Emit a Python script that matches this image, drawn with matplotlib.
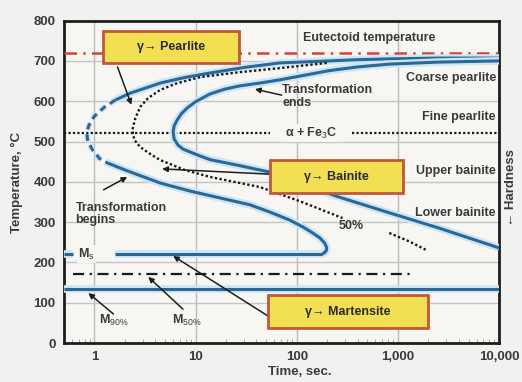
import matplotlib
matplotlib.use("Agg")
import matplotlib.pyplot as plt
import matplotlib.patheffects as pe
from matplotlib.patches import Rectangle
from matplotlib import font_manager

# ---- data: isothermal transformation (TTT) curves, time in s, temperature in C ----
begin_upper_t = [10000, 2500, 824, 400, 211, 68, 30.7, 13.9, 7.88, 4.47, 2.26, 1.61]
begin_upper_T = [707, 707, 705, 703, 700, 695, 684, 670, 659, 645, 620, 603]

begin_nose_t = [1.61, 1.25, 1.0, 0.88, 0.84, 0.86, 0.96, 1.12, 1.28]
begin_nose_T = [603, 585, 563, 540, 521, 500, 479, 458, 449]

begin_lower_t = [1.28, 2.02, 4.47, 8.83, 17.4, 34.4, 54.2, 85.3, 115, 144, 169, 189,
                 198, 196, 188, 176]
begin_lower_T = [449, 429, 397, 377, 360, 343, 325, 305, 288, 273, 261, 248,
                 237, 229, 224, 220]

end_t = [10000, 2500, 824, 400, 211, 68, 43.2, 27.4, 19.5, 13.9, 9.89, 8.24, 7.19,
         6.57, 6.14, 6.0, 6.14, 6.72, 7.53, 8.83, 11.1, 13.9, 27.4, 54.2, 107, 248,
         824, 2566, 10000]
end_T = [700, 697, 692, 685, 676, 653, 645, 638, 630, 618, 598, 583, 568,
         553, 539, 524, 506, 491, 481, 474, 464, 455, 440, 424, 397, 364,
         323, 285, 236]

half_t = [198, 68, 27.4, 11.1, 6.28, 4.47, 3.40, 2.84, 2.54, 2.37, 2.48, 2.84, 3.56,
          4.47, 7.88, 13.9, 43.2, 107, 284]
half_T = [695, 682, 672, 660, 643, 628, 608, 586, 558, 529, 504, 486, 469,
          454, 429, 412, 387, 352, 310]
half_tail_t = [822, 1300, 1900]
half_tail_T = [273, 252, 231]

eutectoid_T = 720
pearlite_split_T = 521
ms_T = 220
m50_T = 172
m90_T = 133

xticks = [1, 10, 100, 1000, 10000]
xtick_labels = ["1", "10", "100", "1,000", "10,000"]
yticks = [0, 100, 200, 300, 400, 500, 600, 700, 800]

# ---- fonts ----
available = {f.name for f in font_manager.fontManager.ttflist}
family = "Liberation Sans" if "Liberation Sans" in available else "DejaVu Sans"
FAM = [family, "DejaVu Sans"]
plt.rcParams["font.family"] = FAM
plt.rcParams["mathtext.fontset"] = "custom"
plt.rcParams["mathtext.rm"] = family
plt.rcParams["mathtext.it"] = family
plt.rcParams["mathtext.bf"] = family + ":bold"

BLUE = "#2b6898"
HALO = "#cde6f3"
TXT = "#3a3a3a"

fig = plt.figure(figsize=(5.22, 3.82), dpi=100, facecolor="#f1f1ef")
ax = fig.add_axes([64 / 522, 1 - 343 / 382, 435 / 522, 322.4 / 382])
ax.set_facecolor("#f7f6f3")
ax.set_xscale("log")
ax.set_xlim(0.5, 10000)
ax.set_ylim(0, 800)

for s in ax.spines.values():
    s.set_linewidth(2)
    s.set_color("#1e1e1e")

ax.set_xticks(xticks)
ax.set_xticklabels(xtick_labels)
ax.set_yticks(yticks)
ax.tick_params(axis="both", which="major", length=0, pad=6, labelsize=9.5,
               labelcolor=TXT)
ax.tick_params(axis="x", which="minor", direction="in", length=3, color="#999999")
for lab in ax.get_xticklabels() + ax.get_yticklabels():
    lab.set_fontweight("bold")

for t in xticks[:-1]:
    ax.axvline(t, color="#b9b9b9", lw=1, zorder=1)
for T in yticks[1:-1]:
    ax.axhline(T, color="#c4c4c4", lw=1, zorder=1)

glow = [pe.Stroke(linewidth=5.5, foreground=HALO), pe.Normal()]

def blue(x, y, **kw):
    ax.plot(x, y, color=BLUE, lw=2.2, solid_capstyle="butt", solid_joinstyle="round",
            path_effects=glow, zorder=4, **kw)

# transformation start curve (dashed around the nose)
blue(begin_upper_t, begin_upper_T)
ax.plot(begin_nose_t, begin_nose_T, color=BLUE, lw=2.2, ls=(0, (2.2, 1.6)),
        zorder=4, path_effects=[pe.Stroke(linewidth=4.5, foreground=HALO), pe.Normal()])
blue(begin_lower_t, begin_lower_T)
# transformation end curve
blue(end_t, end_T)
# 50 % curve
ax.plot(half_t, half_T, color="#1a1a1a", lw=1.7, ls=(0, (1, 1)), zorder=5)
ax.plot(half_tail_t, half_tail_T, color="#1a1a1a", lw=1.7, ls=(0, (1, 1)), zorder=5)

# horizontal reference lines
ax.plot([0.5, 10000], [eutectoid_T] * 2, color="#d2442f", lw=1.8,
        ls=(0, (5, 2.5, 1, 2.5)), zorder=3)
ax.plot([0.5, 54], [pearlite_split_T] * 2, color="#1a1a1a", lw=1.6,
        ls=(0, (1, 1)), zorder=3)
ax.plot([355, 10000], [pearlite_split_T] * 2, color="#1a1a1a", lw=1.6,
        ls=(0, (1, 1)), zorder=3)
blue([0.5, 0.61], [ms_T] * 2)
blue([1.61, 176], [ms_T] * 2)
ax.plot([0.62, 1430], [m50_T] * 2, color="#1a1a1a", lw=1.6,
        ls=(0, (5, 2.5, 1, 2.5)), zorder=3)
blue([0.5, 10000], [m90_T] * 2)

# phase boxes
def phase_box(x0, y0, w, h, label):
    ax.add_patch(Rectangle((x0, y0), w, h, transform=ax.transAxes, facecolor="#f3df52",
                           edgecolor="#c3573a", lw=2, zorder=7))
    ax.text(x0 + w / 2, y0 + h / 2, label, transform=ax.transAxes, ha="center",
            va="center", fontsize=9, fontweight="bold", color="#2a2a2a", zorder=8,
            family=FAM)

phase_box(0.0897, 0.8685, 0.3126, 0.0993, "γ\u2192 Pearlite")
phase_box(0.4736, 0.465, 0.3057, 0.1024, "γ\u2192 Bainite")
phase_box(0.469, 0.0465, 0.368, 0.1024, "γ\u2192 Martensite")

# labels
kw = dict(fontsize=9, color=TXT, fontweight="bold", zorder=6)
ax.text(524, 757, "Eutectoid temperature", ha="center", va="center", **kw)
for T, s in [(657, "Coarse pearlite"), (561, "Fine pearlite"),
             (427, "Upper bainite"), (323, "Lower bainite")]:
    ax.text(9300, T, s, ha="right", va="center", **kw)
ax.text(72, 611, "Transformation\nends", ha="left", va="center", linespacing=1.1, **kw)
ax.text(140, 521, "α + Fe$_3$C", ha="center", va="center",
        bbox=dict(facecolor="#f7f6f3", edgecolor="none", pad=1), **kw)
ax.text(0.65, 320, "Transformation\nbegins", ha="left", va="center", linespacing=1.1,
        **kw)
ax.text(348, 290, "50%", ha="center", va="center", **kw)
ax.text(0.83, 220, "M$_s$", ha="center", va="center",
        bbox=dict(facecolor="#f7f6f3", edgecolor="none", pad=1), **kw)
ax.text(1.54, 57, "M$_{90\\%}$", ha="center", va="center", **kw)
ax.text(8.2, 57, "M$_{50\\%}$", ha="center", va="center", **kw)

# arrows
arrows = [((1.69, 685), (2.32, 591)), ((1.23, 380), (2.11, 412)),
          ((54, 419), (4.67, 432)), ((71, 615), (38.6, 630)),
          ((52, 67), (6.0, 216)), ((7.5, 84), (3.4, 164)),
          ((1.54, 72), (0.87, 124))]
for tail, head in arrows:
    ax.annotate("", xy=head, xytext=tail,
                arrowprops=dict(arrowstyle="-|>", color="#1e1e1e", lw=1.1,
                                mutation_scale=8, shrinkA=0, shrinkB=0), zorder=6)

fig.text(17 / 522, 1 - 182 / 382, "Temperature, °C", rotation=90, ha="center",
         va="center", fontsize=9.5, fontweight="bold", color=TXT)
fig.text(300 / 522, 1 - 372 / 382, "Time, sec.", ha="center", va="center",
         fontsize=9.5, fontweight="bold", color=TXT)
fig.text(511 / 522, 1 - 188 / 382, "\u2190 Hardness", rotation=90, ha="center",
         va="center", fontsize=9.5, fontweight="bold", color=TXT, family=FAM)

fig.savefig("out.png", dpi=100, facecolor=fig.get_facecolor())
